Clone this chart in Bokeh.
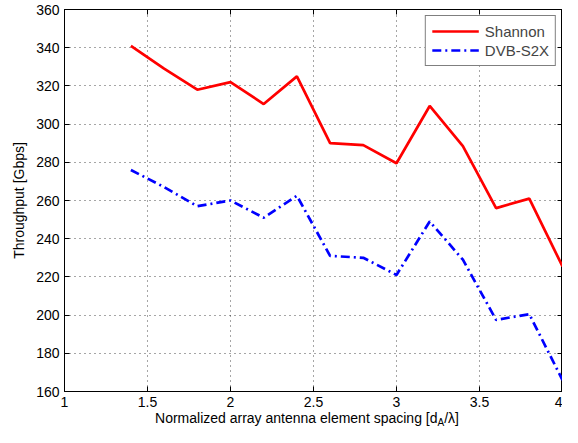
from bokeh.plotting import figure
from bokeh.layouts import column
from bokeh.models import LinearAxis, Range1d, Legend, LegendItem, FixedTicker, CustomJSTickFormatter, Div
from bokeh.embed import file_html
from bokeh.resources import INLINE

# Data
spacing = [1.4, 1.6, 1.8, 2.0, 2.2, 2.4, 2.6, 2.8, 3.0, 3.2, 3.4, 3.6, 3.8, 4.0]
shannon = [341, 329, 318, 322, 310.5, 325, 290, 289, 279.5, 309.5, 288.5, 256, 261, 225.5]
dvbs2x = [276, 267, 257, 260, 251, 262.5, 231, 230, 221, 249, 229, 197.5, 200.5, 166]
x_ticks = [1, 1.5, 2, 2.5, 3, 3.5, 4]
y_ticks = [160, 180, 200, 220, 240, 260, 280, 300, 320, 340, 360]
series_names = ["Shannon", "DVB-S2X"]
y_title = "Throughput [Gbps]"
x_title_html = "Normalized array antenna element spacing [d<sub style='font-size:10px;vertical-align:-3px;line-height:0'>A</sub>/λ]"

FONT = "Liberation Sans"
FS = "14px"

p = figure(width=562, height=409, output_backend="svg", toolbar_location=None,
           x_range=Range1d(1, 4), y_range=Range1d(160, 360),
           min_border_left=64, min_border_right=0, min_border_top=9, min_border_bottom=0)
p.background_fill_color = "white"
p.border_fill_color = "white"
p.outline_line_color = "black"
p.outline_line_width = 1

for ax in (p.xaxis[0], p.yaxis[0]):
    ax.major_tick_in = 5
    ax.major_tick_out = 0
    ax.minor_tick_in = 0
    ax.minor_tick_out = 0
    ax.axis_line_color = "black"
    ax.major_tick_line_color = "black"
    ax.major_label_text_font = FONT
    ax.major_label_text_font_size = FS
    ax.major_label_text_color = "black"
    ax.major_label_standoff = 5

p.xaxis[0].ticker = FixedTicker(ticks=x_ticks)
p.yaxis[0].ticker = FixedTicker(ticks=y_ticks)
p.xaxis[0].major_label_overrides = {1: "1", 2: "2", 3: "3", 4: "4"}

p.yaxis[0].axis_label = y_title
p.yaxis[0].axis_label_text_font = FONT
p.yaxis[0].axis_label_text_font_size = FS
p.yaxis[0].axis_label_text_font_style = "normal"
p.yaxis[0].axis_label_text_color = "black"
p.yaxis[0].axis_label_standoff = 6

# Top and right axes with inward ticks, no labels
blank = CustomJSTickFormatter(code="return ''")
top = LinearAxis(ticker=FixedTicker(ticks=x_ticks), formatter=blank,
                 major_tick_in=5, major_tick_out=0, minor_tick_in=0, minor_tick_out=0,
                 major_label_standoff=0)
right = LinearAxis(ticker=FixedTicker(ticks=y_ticks), formatter=blank,
                   major_tick_in=5, major_tick_out=0, minor_tick_in=0, minor_tick_out=0,
                   major_label_standoff=0)
p.add_layout(top, "above")
p.add_layout(right, "right")

for g in (p.xgrid[0], p.ygrid[0]):
    g.grid_line_color = "black"
    g.grid_line_alpha = 0.7
    g.grid_line_dash = "1 4"
    g.grid_line_width = 1
p.xgrid[0].ticker = FixedTicker(ticks=x_ticks)
p.ygrid[0].ticker = FixedTicker(ticks=y_ticks)

r1 = p.line(spacing, shannon, line_color="#ff0000", line_width=2.7)
r2 = p.line(spacing, dvbs2x, line_color="#0000ff", line_width=2.7, line_dash="9 4 2 4")

legend = Legend(items=[LegendItem(label=series_names[0], renderers=[r1]),
                       LegendItem(label=series_names[1], renderers=[r2])],
                location="top_right", margin=6, padding=6, spacing=1,
                glyph_width=47, glyph_height=18, label_height=18, label_standoff=6,
                label_text_font=FONT, label_text_font_size="15px",
                border_line_color="black", border_line_width=1,
                background_fill_alpha=1.0)
p.add_layout(legend, "center")

xlabel = Div(text=("<div style=\"width:562px;box-sizing:border-box;padding-left:52px;"
                   "text-align:center;font-family:'Liberation Sans';font-size:14px;"
                   "line-height:18px;color:black;white-space:nowrap\">" + x_title_html + "</div>"),
             width=562, height=18, margin=(0, 0, 0, 0))

layout = column(p, xlabel, spacing=0)
open("out.html", "w").write(file_html(layout, INLINE))
